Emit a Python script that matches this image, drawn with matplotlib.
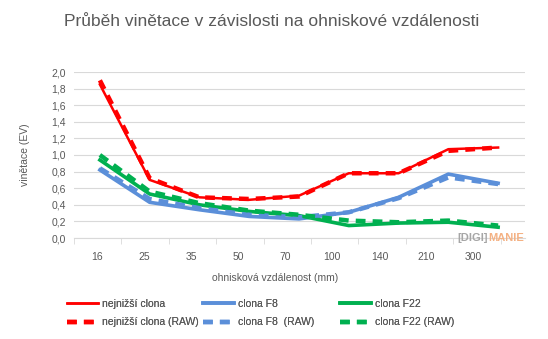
import matplotlib.pyplot as plt
from matplotlib.lines import Line2D

# ohniskové vzdálenosti (kategorie)
ohniska = ['16', '25', '35', '50', '70', '100', '140', '210', '300']

# vinětace v EV
nejnizsi = [1.85, 0.70, 0.49, 0.46, 0.51, 0.78, 0.78, 1.07, 1.09]
nejnizsi_raw = [1.90, 0.72, 0.49, 0.47, 0.50, 0.78, 0.78, 1.05, 1.09]
f8 = [0.82, 0.43, 0.34, 0.26, 0.23, 0.31, 0.49, 0.77, 0.66]
f8_raw = [0.84, 0.47, 0.36, 0.28, 0.25, 0.31, 0.48, 0.73, 0.65]
f22 = [0.94, 0.53, 0.40, 0.32, 0.27, 0.15, 0.18, 0.19, 0.13]
f22_raw = [1.00, 0.56, 0.42, 0.33, 0.28, 0.21, 0.19, 0.21, 0.15]

plt.rcParams['font.family'] = ['Liberation Sans', 'DejaVu Sans']

fig = plt.figure(figsize=(5.48, 3.39), dpi=100)
ax = fig.add_axes([74 / 548, 1 - 238 / 339, 451 / 548, 166 / 339])

x = list(range(len(ohniska)))
cervena, modra, zelena = '#ff0000', '#5b8fd9', '#00b050'
carky = (0, (2.2, 1.6))

ax.plot(x, nejnizsi, color=cervena, lw=1.8)
ax.plot(x, f8, color=modra, lw=2.6)
ax.plot(x, f22, color=zelena, lw=2.6)
ax.plot(x, nejnizsi_raw, color=cervena, lw=3.2, ls=carky)
ax.plot(x, f8_raw, color=modra, lw=3.2, ls=carky)
ax.plot(x, f22_raw, color=zelena, lw=3.2, ls=carky)

ax.set_xlim(-0.48, 8.54)
ax.set_ylim(0, 2.0)
ax.set_yticks([i / 10 for i in range(0, 21, 2)])
ax.set_yticklabels([f'{i / 10:.1f}'.replace('.', ',') for i in range(0, 21, 2)])
ax.grid(axis='y', color='#d9d9d9', lw=0.8)
ax.set_axisbelow(True)

# popisky kategorií (graf je v originále mírně roztažený)
ax.set_xticks([(95 + 47.3 * i - 98) / 50 for i in range(len(ohniska))])
ax.set_xticklabels(ohniska)
ax.set_xticks([(72 + 47.6 * k - 98) / 50 for k in range(10)], minor=True)
ax.tick_params(axis='x', which='major', length=0, pad=10)
ax.tick_params(axis='x', which='minor', length=4, color='#d9d9d9', direction='out')
ax.tick_params(axis='y', length=0, pad=6)
ax.tick_params(labelsize=7.5, labelcolor='#595959')

for s in ['top', 'right', 'left']:
    ax.spines[s].set_visible(False)
ax.spines['bottom'].set_color('#d9d9d9')

fig.text(272 / 548, 1 - 21 / 339, 'Průběh vinětace v závislosti na ohniskové vzdálenosti',
         ha='center', va='center', fontsize=12.5, color='#595959')
fig.text(25 / 548, 1 - 155 / 339, 'vinětace (EV)', rotation=90,
         ha='center', va='center', fontsize=7.5, color='#595959')
fig.text(275 / 548, 1 - 278 / 339, 'ohnisková vzdálenost (mm)',
         ha='center', va='center', fontsize=7.5, color='#595959')

# vodoznak
fig.text(457 / 548, 1 - 238 / 339, '[DIGI]', ha='left', va='center',
         fontsize=8, color='#a6a6a6', fontweight='bold')
fig.text(488 / 548, 1 - 238 / 339, 'MANIE', ha='left', va='center',
         fontsize=8, color='#f4b183', fontweight='bold')

# legenda - tři sloupce, každý zvlášť
sloupce = [
    (cervena, 1.8, ['nejnižší clona', 'nejnižší clona (RAW)'], 67),
    (modra, 2.6, ['clona F8', 'clona F8  (RAW)'], 203),
    (zelena, 2.6, ['clona F22', 'clona F22 (RAW)'], 340),
]
for barva, tl, popisky, lx in sloupce:
    h = [Line2D([], [], color=barva, lw=tl),
         Line2D([], [], color=barva, lw=3.2, ls=carky)]
    leg = fig.legend(h, popisky, loc='center left',
                     bbox_to_anchor=(lx / 548, 1 - 313 / 339), frameon=False,
                     fontsize=7.5, handlelength=3.0, handletextpad=0.35,
                     labelspacing=0.85, borderpad=0, borderaxespad=0)
    for t in leg.get_texts():
        t.set_color('#595959')
    fig.add_artist(leg)

fig.savefig('out.png', dpi=100)
